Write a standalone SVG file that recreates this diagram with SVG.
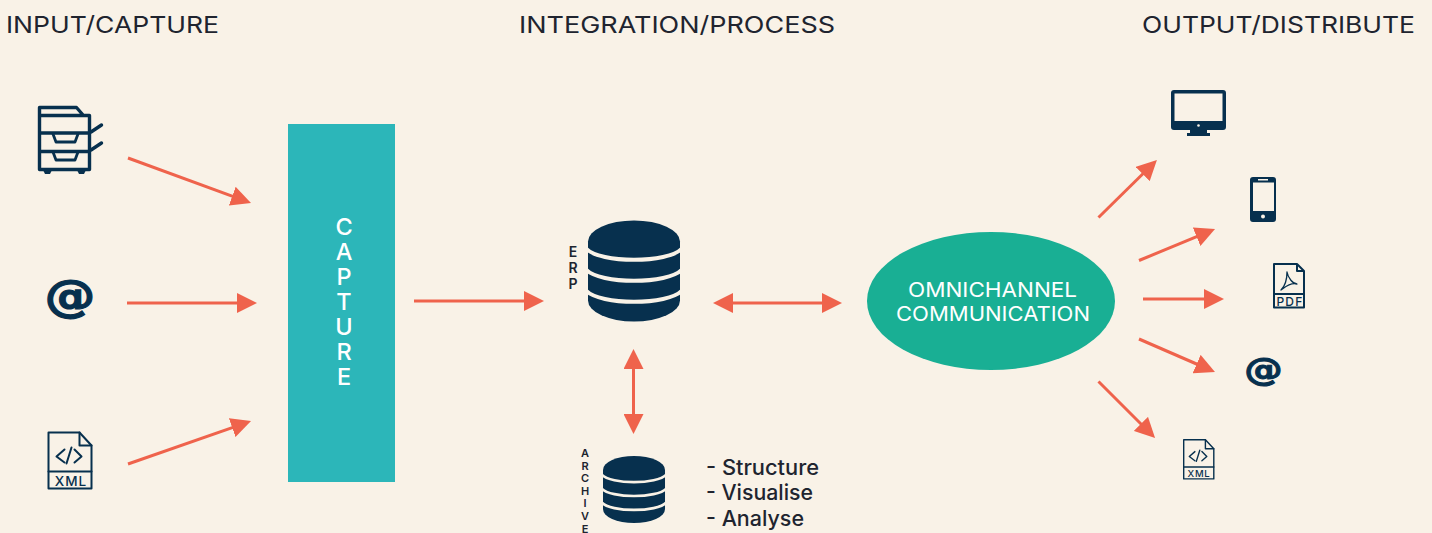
<svg xmlns="http://www.w3.org/2000/svg" xmlns:xlink="http://www.w3.org/1999/xlink" width="1432" height="533" viewBox="0 0 1432 533">
<style>
text{font-family:Inter,"Liberation Sans",sans-serif}
.h{font-size:23px;fill:#20242f}
.ic{fill:none;stroke:#07304e;stroke-width:3.400;stroke-linejoin:round;stroke-linecap:round}
.doc{fill:none;stroke:#07304e;stroke-width:2;stroke-linejoin:round;stroke-linecap:round}
.dark{fill:#07304e}
.at{font-family:"DejaVu Sans",sans-serif;font-weight:700;fill:#07304e;stroke:#07304e;text-anchor:middle}
.arrow{fill:none;stroke:#ef634c;stroke-width:3}
.one{marker-end:url(#head)}
.two{marker-start:url(#head);marker-end:url(#head)}
.band{fill:none;stroke:#f9f2e7}
.cap{font-size:23.500px;font-weight:500;fill:#fff;text-anchor:middle}
.omni{font-size:20px;fill:#fff}
.side{fill:#20242f;text-anchor:middle;font-weight:600}
.list{font-size:21px;fill:#20242f;font-weight:500}
.lbl{fill:#07304e;font-weight:500;text-anchor:middle}
</style>
<defs>
<marker id="head" markerUnits="userSpaceOnUse" markerWidth="20" markerHeight="20" refX="10" refY="10" orient="auto-start-reverse"><path d="M0 0L20 10L0 20Z" fill="#ef634c"/></marker>
<g id="docframe"><path class="doc" d="M1 1H32L44 14V57H1Z"/><path class="doc" d="M32 1V14H44M1 40H44"/></g>
<g id="code"><path class="doc" d="M17 18L9 25L17 31M24 16L19 32M27 18L34 25L27 31"/></g>
<g id="cyl"><path class="dark" d="M0 21A46 21 0 0 1 92 21V80A46 21 0 0 1 0 80Z"/><path class="band" stroke-width="4" d="M-2 28C12 43 80 43 94 28M-2 49C12 64 80 64 94 49M-2 70C12 85 80 85 94 70"/></g>
</defs>
<rect width="1432" height="533" fill="#f9f2e7"/>
<g id="headings">
<text class="h" x="6" y="33" textLength="213" lengthAdjust="spacingAndGlyphs">INPUT/CAPTURE</text>
<text class="h" x="519" y="33" textLength="316" lengthAdjust="spacingAndGlyphs">INTEGRATION/PROCESS</text>
<text class="h" x="1142" y="33" textLength="273" lengthAdjust="spacingAndGlyphs">OUTPUT/DISTRIBUTE</text>
</g>
<g id="connectors">
<path class="arrow one" d="M128 158L241.600 199.600"/>
<path class="arrow one" d="M127 303H247"/>
<path class="arrow one" d="M128 464L241.600 424.300"/>
<path class="arrow one" d="M414 301H534"/>
<path class="arrow two" d="M723 303H832"/>
<path class="arrow two" d="M633.500 359V424"/>
<path class="arrow one" d="M1098.500 217.500L1149.800 167"/>
<path class="arrow one" d="M1139 260.500L1205.800 232.900"/>
<path class="arrow one" d="M1143 299H1214"/>
<path class="arrow one" d="M1139 339L1205.800 368"/>
<path class="arrow one" d="M1098.500 381.500L1148 431"/>
</g>
<g id="copier">
<path class="ic" d="M39.500 115.500V107.500H76.500L83.500 115.500M39.500 115.500H89.500V169.500H39.500ZM39.500 133H89.500M39.500 151.500H89.500M91 132L101.500 125M91 150L101.500 143"/>
<path class="ic" style="stroke-width:2.800" d="M53 134L56 142H75L78 134M53 152L56 160H75L78 152"/>
<path class="dark" d="M43 170H52L50 174H45ZM77 170H86L84 174H79Z"/>
</g>
<g id="email-in"><text class="at" transform="translate(70 311) scale(1.02 .89)" font-size="50" stroke-width="1.200">@</text></g>
<g id="xml-in">
<use xlink:href="#docframe" x="47.500" y="431.500"/><use xlink:href="#code" x="47.500" y="431.500"/>
<text class="lbl" x="71" y="486" font-size="13.500" letter-spacing="1">XML</text>
</g>
<g id="capture">
<rect x="288" y="124" width="107" height="358" fill="#2cb6b9"/>
<text class="cap" x="344" y="235">C</text><text class="cap" x="344" y="260">A</text><text class="cap" x="344" y="285">P</text><text class="cap" x="344" y="310">T</text><text class="cap" x="344" y="335">U</text><text class="cap" x="344" y="360">R</text><text class="cap" x="344" y="385">E</text>
</g>
<g id="erp">
<use xlink:href="#cyl" x="588" y="220.500"/>
<text class="side" x="573" y="257" font-size="14">E</text><text class="side" x="573" y="273" font-size="14">R</text><text class="side" x="573" y="289" font-size="14">P</text>
</g>
<g id="archive">
<use xlink:href="#cyl" transform="translate(603 456) scale(.674 .664)"/>
<text class="side" x="585" y="457" font-size="11">A</text><text class="side" x="585" y="470" font-size="11">R</text><text class="side" x="585" y="482" font-size="11">C</text><text class="side" x="585" y="495" font-size="11">H</text><text class="side" x="585" y="507" font-size="11">I</text><text class="side" x="585" y="520" font-size="11">V</text><text class="side" x="585" y="533" font-size="11">E</text>
</g>
<g id="list">
<text class="list" x="706" y="475" textLength="113" lengthAdjust="spacingAndGlyphs">- Structure</text>
<text class="list" x="706" y="500" textLength="107" lengthAdjust="spacingAndGlyphs">- Visualise</text>
<text class="list" x="706" y="526" textLength="98" lengthAdjust="spacingAndGlyphs">- Analyse</text>
</g>
<g id="omnichannel">
<ellipse cx="991" cy="301" rx="124" ry="69" fill="#19af94"/>
<text class="omni" x="908" y="297" textLength="169" lengthAdjust="spacingAndGlyphs">OMNICHANNEL</text>
<text class="omni" x="896" y="321" textLength="194" lengthAdjust="spacingAndGlyphs">COMMUNICATION</text>
</g>
<g id="monitor">
<path class="dark" fill-rule="evenodd" d="M1174 90H1223Q1226 90 1226 93V127Q1226 130 1223 130H1207V133H1210V136H1187V133H1190V130H1174Q1171 130 1171 127V93Q1171 90 1174 90ZM1174.500 93.500V121H1222.500V93.500Z"/>
<circle cx="1198.500" cy="125.500" r="1.300" fill="#f9f2e7"/>
</g>
<g id="phone">
<path class="dark" fill-rule="evenodd" d="M1253 177H1273Q1276 177 1276 180V219Q1276 222 1273 222H1253Q1250 222 1250 219V180Q1250 177 1253 177ZM1253 182.500V211H1274V182.500Z"/>
<rect x="1258" y="179" width="10" height="1.500" fill="#f9f2e7"/><circle cx="1263" cy="216.500" r="2" fill="#f9f2e7"/>
</g>
<g id="pdf">
<path class="doc" d="M1274 264H1297L1304 271V307.500H1274ZM1297 264V271H1304M1274 294H1304"/>
<path class="doc" style="stroke-width:1.300" d="M1287 272C1287 280 1284 287 1281 290C1284 288 1290 282 1297 284C1293 284 1288 278 1287 272Z"/>
<text class="lbl" x="1290" y="305.500" font-size="12" letter-spacing="1.200">PDF</text>
</g>
<g id="email-out"><text class="at" transform="translate(1263.500 379.500) scale(1.1 .93)" font-size="35" stroke-width="1">@</text></g>
<g id="xml-out">
<g transform="translate(1183 439) scale(.7)"><use xlink:href="#docframe"/><use xlink:href="#code"/></g>
<text class="lbl" x="1199" y="476.700" font-size="9.500" letter-spacing=".8">XML</text>
</g>
</svg>
